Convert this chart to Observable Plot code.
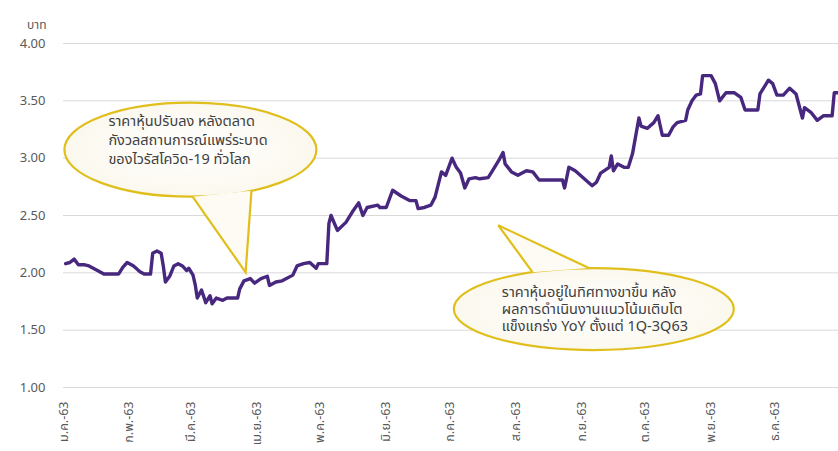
<!DOCTYPE html>
<html>
<head>
<meta charset="utf-8">
<script src="https://cdn.jsdelivr.net/npm/d3@7"></script>
<script src="https://cdn.jsdelivr.net/npm/@observablehq/plot@0.6"></script>
<style>
  html, body { margin: 0; padding: 0; background: #ffffff; }
  #chart { width: 838px; height: 451px; overflow: hidden; }
</style>
</head>
<body>
<div id="chart"></div>
<script>
// ---- data ----
const dates = [
  "2020-01-02","2020-01-04","2020-01-06","2020-01-08","2020-01-11","2020-01-13","2020-01-17","2020-01-20","2020-01-24","2020-01-27",
  "2020-01-29","2020-01-31","2020-02-03","2020-02-06","2020-02-08","2020-02-11","2020-02-12","2020-02-14","2020-02-16","2020-02-17",
  "2020-02-18","2020-02-20","2020-02-22","2020-02-24","2020-02-26","2020-02-28","2020-02-29","2020-03-02","2020-03-03","2020-03-04",
  "2020-03-06","2020-03-08","2020-03-10","2020-03-11","2020-03-13","2020-03-16","2020-03-18","2020-03-23","2020-03-24","2020-03-26",
  "2020-03-29","2020-03-31","2020-04-03","2020-04-06","2020-04-07","2020-04-10","2020-04-13","2020-04-18","2020-04-20","2020-04-23",
  "2020-04-26","2020-04-29","2020-04-30","2020-05-04","2020-05-05","2020-05-06","2020-05-09","2020-05-13","2020-05-16","2020-05-19",
  "2020-05-21","2020-05-23","2020-05-28","2020-05-29","2020-06-01","2020-06-04","2020-06-08","2020-06-12","2020-06-15","2020-06-16",
  "2020-06-19","2020-06-22","2020-06-24","2020-06-27","2020-06-29","2020-07-02","2020-07-04","2020-07-06","2020-07-08","2020-07-10",
  "2020-07-13","2020-07-15","2020-07-19","2020-07-21","2020-07-24","2020-07-26","2020-07-27","2020-07-30","2020-08-02","2020-08-06",
  "2020-08-09","2020-08-12","2020-08-18","2020-08-23","2020-08-24","2020-08-26","2020-08-29","2020-09-06","2020-09-08","2020-09-10",
  "2020-09-14","2020-09-15","2020-09-16","2020-09-18","2020-09-21","2020-09-23","2020-09-25","2020-09-28","2020-09-29","2020-10-02",
  "2020-10-05","2020-10-07","2020-10-09","2020-10-12","2020-10-14","2020-10-16","2020-10-20","2020-10-21","2020-10-23","2020-10-25",
  "2020-10-27","2020-10-28","2020-11-01","2020-11-03","2020-11-05","2020-11-08","2020-11-12","2020-11-15","2020-11-17","2020-11-23",
  "2020-11-24","2020-11-28","2020-11-30","2020-12-02","2020-12-05","2020-12-08","2020-12-11","2020-12-12","2020-12-14","2020-12-15",
  "2020-12-18","2020-12-21","2020-12-24","2020-12-28","2020-12-29","2020-12-31"
];
const prices = [
  2.08,2.09,2.12,2.07,2.07,2.06,2.02,1.99,1.99,1.99,
  2.05,2.09,2.06,2.01,1.99,1.99,2.17,2.19,2.17,2.06,
  1.92,1.97,2.06,2.08,2.06,2.02,2.04,1.98,1.90,1.78,
  1.85,1.74,1.80,1.73,1.78,1.76,1.78,1.78,1.86,1.93,
  1.95,1.91,1.95,1.97,1.89,1.92,1.93,1.98,2.06,2.08,
  2.09,2.04,2.08,2.08,2.43,2.50,2.37,2.44,2.53,2.61,
  2.50,2.57,2.59,2.57,2.57,2.72,2.67,2.63,2.63,2.56,
  2.57,2.59,2.66,2.88,2.85,3.00,2.92,2.87,2.74,2.82,
  2.83,2.82,2.83,2.89,2.98,3.05,2.95,2.88,2.85,2.89,
  2.88,2.81,2.81,2.81,2.74,2.92,2.89,2.76,2.79,2.87,
  2.92,3.02,2.89,2.95,2.92,2.92,3.04,3.35,3.28,3.26,
  3.31,3.37,3.20,3.20,3.27,3.31,3.33,3.42,3.50,3.55,
  3.56,3.72,3.72,3.65,3.50,3.57,3.57,3.53,3.42,3.42,
  3.56,3.68,3.65,3.55,3.55,3.61,3.56,3.49,3.35,3.44,
  3.40,3.33,3.37,3.37,3.57,3.57
];
const monthNames = ["ม.ค.","ก.พ.","มี.ค.","เม.ย.","พ.ค.","มิ.ย.","ก.ค.","ส.ค.","ก.ย.","ต.ค.","พ.ย.","ธ.ค."];
const yearSuffix = "-63";
const yTicks = [1.00, 1.50, 2.00, 2.50, 3.00, 3.50, 4.00];
const yUnit = "บาท";

const callout1Lines = ["ราคาหุ้นปรับลง หลังตลาด", "กังวลสถานการณ์แพร่ระบาด", "ของไวรัสโควิด-19 ทั่วโลก"];
const callout1Center = ["2020-03-01", 3.07];
const callout1Tip = ["2020-03-27", 2.00];
const callout2Lines = ["ราคาหุ้นอยู่ในทิศทางขาขึ้น หลัง", "ผลการดำเนินงานแนวโน้มเติบโต", "แข็งแกร่ง YoY ตั้งแต่ 1Q-3Q63"];
const callout2Center = ["2020-09-07", 1.68];
const callout2Tip = ["2020-07-24", 2.41];

// ---- build ----
const rows = dates.map((d, i) => ({date: new Date(d), price: prices[i]}));
const monthStarts = monthNames.map((_, m) => new Date(Date.UTC(2020, m, 1)));
const FONT = "'Noto Sans Thai', 'Noto Sans', Tahoma, 'DejaVu Sans', sans-serif";

const chart = Plot.plot({
  width: 838,
  height: 451,
  marginTop: 43,
  marginBottom: 64,
  marginLeft: 63,
  marginRight: 0,
  style: {fontFamily: FONT, color: "#595959", background: "#ffffff", overflow: "visible"},
  x: {type: "utc", domain: [new Date("2020-01-01"), new Date("2020-12-31")]},
  y: {domain: [1, 4]},
  marks: [
    Plot.gridY(yTicks, {stroke: "#d9d9d9", strokeOpacity: 1, strokeWidth: 1}),
    Plot.axisY(yTicks, {tickSize: 0, tickPadding: 18, tickFormat: d3.format(".2f"), label: null, fontSize: 13, fill: "#595959"}),
    Plot.axisX(monthStarts, {tickSize: 0, tickPadding: 14, tickRotate: -90, label: null, fontSize: 12.5, fill: "#595959",
      tickFormat: d => monthNames[d.getUTCMonth()] + yearSuffix}),
    Plot.lineY(rows, {x: "date", y: "price", stroke: "#48287f", strokeWidth: 3.4, strokeLinejoin: "round", strokeLinecap: "round"}),
    Plot.text([yUnit], {frameAnchor: "top-left", dx: -17, dy: -23, textAnchor: "end", fontSize: 12, fill: "#595959"})
  ]
});

document.getElementById("chart").appendChild(chart);

// ---- callouts anchored in data coordinates ----
const xs = chart.scale("x"), ys = chart.scale("y");
const svg = d3.select(chart.tagName.toLowerCase() === "svg" ? chart : chart.querySelector("svg"));
const defs = svg.append("defs");
const grad = defs.append("radialGradient").attr("id", "calloutFill");
grad.append("stop").attr("offset", "0%").attr("stop-color", "#ffffff");
grad.append("stop").attr("offset", "100%").attr("stop-color", "#fbf8ee");

function callout(center, tip, rx, ry, t1, t2, lines, textDx, textDy, lineH, fs) {
  const cx = xs.apply(new Date(center[0])), cy = ys.apply(center[1]);
  const tx = xs.apply(new Date(tip[0])), ty = ys.apply(tip[1]);
  const rad = a => a * Math.PI / 180;
  const b1 = [cx + rx * Math.cos(rad(t1)), cy + ry * Math.sin(rad(t1))];
  const b2 = [cx + rx * Math.cos(rad(t2)), cy + ry * Math.sin(rad(t2))];
  const g = svg.append("g");
  const stroke = "#e0bf1c";
  g.append("ellipse").attr("cx", cx).attr("cy", cy).attr("rx", rx).attr("ry", ry)
    .attr("fill", "url(#calloutFill)").attr("stroke", stroke).attr("stroke-width", 2.2);
  g.append("path").attr("d", `M${b1}L${tx},${ty}L${b2}Z`).attr("fill", "#fdfbf3").attr("stroke", "none");
  g.append("path").attr("d", `M${b1}L${tx},${ty}L${b2}`).attr("fill", "none").attr("stroke", stroke)
    .attr("stroke-width", 2.2).attr("stroke-linejoin", "miter");
  const t = g.append("text").attr("font-family", FONT).attr("font-size", fs).attr("fill", "#404040")
    .attr("text-anchor", "start");
  lines.forEach((s, i) => {
    t.append("tspan").attr("x", cx + textDx).attr("y", cy + textDy + i * lineH).attr("dominant-baseline", "middle").text(s);
  });
}

callout(callout1Center, callout1Tip, 126, 47, 89, 61, callout1Lines, -82, -28, 19, 14.5);
callout(callout2Center, callout2Tip, 140, 41, 244, 268, callout2Lines, -92, -16, 17, 14.5);
</script>
</body>
</html>
